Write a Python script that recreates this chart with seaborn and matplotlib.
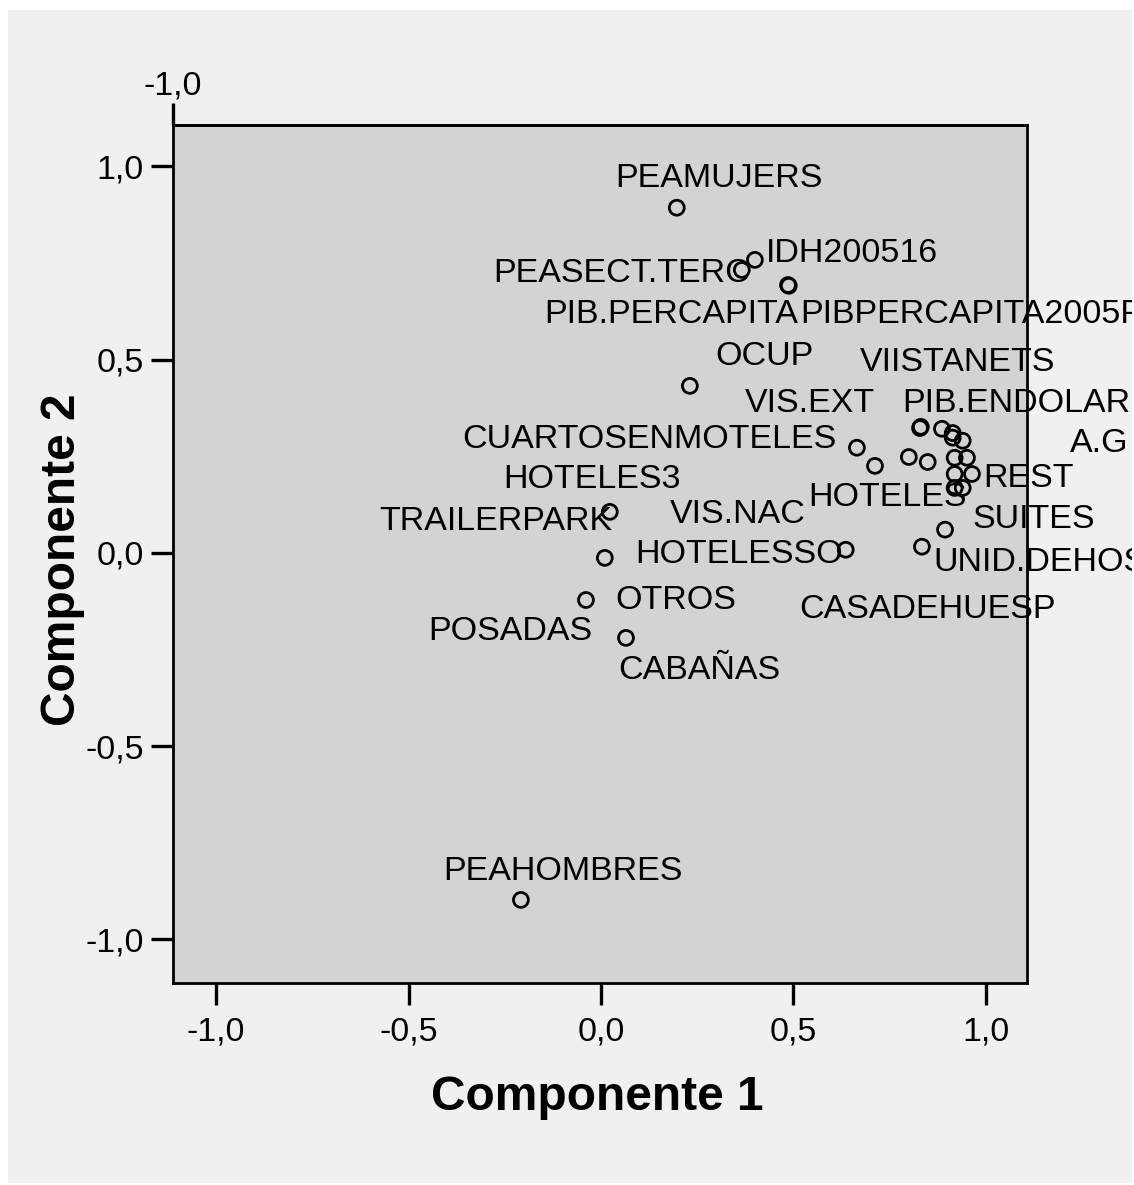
import numpy as np
import pandas as pd
import matplotlib
matplotlib.use("Agg")
import matplotlib.pyplot as plt
import seaborn as sns
from matplotlib.patches import Rectangle

# Component loadings, one entry per circle
comp1 = [0.197, 0.400, 0.366, 0.486, 0.488, 0.231, 0.829, 0.831, 0.886, 0.914,
         0.914, 0.940, 0.665, 0.712, 0.800, 0.849, 0.919, 0.951, 0.919, 0.964,
         0.919, 0.940, 0.894, 0.834, 0.636, 0.023, 0.010, -0.039, 0.065, -0.208]
comp2 = [0.893, 0.758, 0.732, 0.693, 0.691, 0.432, 0.323, 0.326, 0.321, 0.310,
         0.298, 0.290, 0.272, 0.225, 0.248, 0.235, 0.246, 0.246, 0.204, 0.204,
         0.168, 0.168, 0.060, 0.016, 0.008, 0.106, -0.013, -0.122, -0.220, -0.898]

# Visible variable labels and the circle each one belongs to
label_names = ["PEAMUJERS", "IDH200516", "PEASECT.TERC", "PIB.PERCAPITA",
               "PIBPERCAPITA2005PESOS", "OCUP", "VIISTANETS", "PIB.ENDOLARES",
               "A.G", "CUARTOSENMOTELES", "VIS.EXT", "REST", "HOTELES", "SUITES",
               "UNID.DEHOSPEDAJE", "HOTELESSO", "CASADEHUESP", "TRAILERPARK",
               "HOTELES3", "VIS.NAC", "OTROS", "POSADAS", "CABAÑAS", "PEAHOMBRES"]
label_point = [0, 1, 2, 3, 4, 5, 6, 8, 11, 12, 13, 19, 21, 22, 23, 24, 24, 25,
               25, 26, 27, 27, 28, 29]

# label placement (pixel offset of text anchor from its circle, alignment)
label_pos = {
    "PEAMUJERS": (42, 21, "center"),
    "IDH200516": (11, -2, "left"),
    "PEASECT.TERC": (8, -12, "right"),
    "PIB.PERCAPITA": (10, -38, "right"),
    "PIBPERCAPITA2005PESOS": (11, -37, "left"),
    "OCUP": (26, 21, "left"),
    "VIISTANETS": (-60, 57, "left"),
    "PIB.ENDOLARES": (-40, 17, "left"),
    "A.G": (107, -11, "left"),
    "CUARTOSENMOTELES": (-20, 0, "right"),
    "VIS.EXT": (0, 54, "right"),
    "REST": (11, -13, "left"),
    "HOTELES": (4, -18, "right"),
    "SUITES": (27, 2, "left"),
    "UNID.DEHOSPEDAJE": (11, -24, "left"),
    "HOTELESSO": (-3, -13, "right"),
    "CASADEHUESP": (-46, -68, "left"),
    "TRAILERPARK": (3, -18, "right"),
    "HOTELES3": (-107, 24, "left"),
    "VIS.NAC": (65, 35, "left"),
    "OTROS": (29, -9, "left"),
    "POSADAS": (6, -40, "right"),
    "CABAÑAS": (-8, -41, "left"),
    "PEAHOMBRES": (42, 20, "center"),
}

df = pd.DataFrame({"Componente 1": comp1, "Componente 2": comp2})

sns.set_style("white")
plt.rcParams["font.family"] = ["Liberation Sans", "DejaVu Sans"]

fig = plt.figure(figsize=(11.34, 11.85), dpi=100, facecolor="white")
panel = Rectangle((8 / 1134, 2 / 1185), 1124 / 1134, 1173 / 1185,
                  transform=fig.transFigure, facecolor="#F0F0F0",
                  edgecolor="none", zorder=-10)
fig.add_artist(panel)

ax = fig.add_axes([173 / 1134, 1 - 983 / 1185, 854 / 1134, 858 / 1185])
ax.set_facecolor("#D3D3D3")

sns.scatterplot(data=df, x="Componente 1", y="Componente 2", ax=ax,
                marker="o", s=115, facecolor="none", edgecolor="black",
                linewidth=2.0, zorder=3)

ax.set_xlim(-1.112, 1.107)
ax.set_ylim(-1.113, 1.107)
ticks = [-1.0, -0.5, 0.0, 0.5, 1.0]
tick_labels = ["-1,0", "-0,5", "0,0", "0,5", "1,0"]
ax.set_xticks(ticks)
ax.set_xticklabels(tick_labels)
ax.set_yticks(ticks)
ax.set_yticklabels(tick_labels)
ax.tick_params(axis="both", direction="out", length=16, width=2.4,
               labelsize=24.5, color="black", labelcolor="black")
ax.tick_params(axis="x", pad=8)
ax.tick_params(axis="y", pad=5)
ax.xaxis.set_ticks_position("bottom")
ax.yaxis.set_ticks_position("left")
for side in ["top", "bottom", "left", "right"]:
    ax.spines[side].set_visible(True)
    ax.spines[side].set_color("black")
    ax.spines[side].set_linewidth(2)

# SPSS leftover tick at top-left corner
top = ax.secondary_xaxis("top")
top.set_xticks([ax.get_xlim()[0]])
top.set_xticklabels(["-1,0"])
top.tick_params(direction="out", length=16, width=2.4, labelsize=24.5, pad=1,
                color="black", labelcolor="black")
top.spines["top"].set_linewidth(2)

ax.set_xlabel("Componente 1", fontsize=34.5, fontweight="bold", color="black")
ax.xaxis.set_label_coords((597 - 173) / 854, (983 - 1110) / 858)
ax.xaxis.label.set_va("baseline")
ax.set_ylabel("Componente 2", fontsize=34.5, fontweight="bold", color="black")
ax.yaxis.set_label_coords((75 - 173) / 854, (983 - 560) / 858)
ax.yaxis.label.set_va("baseline")

for name, idx in zip(label_names, label_point):
    dx, dy, ha = label_pos[name]
    t = ax.annotate(name, xy=(comp1[idx], comp2[idx]), xytext=(dx, dy),
                    textcoords="offset pixels", ha=ha, va="baseline",
                    fontsize=24.5, color="black", annotation_clip=False,
                    zorder=4)
    t.set_clip_path(panel)

fig.savefig("out.png", dpi=100, facecolor="white")
